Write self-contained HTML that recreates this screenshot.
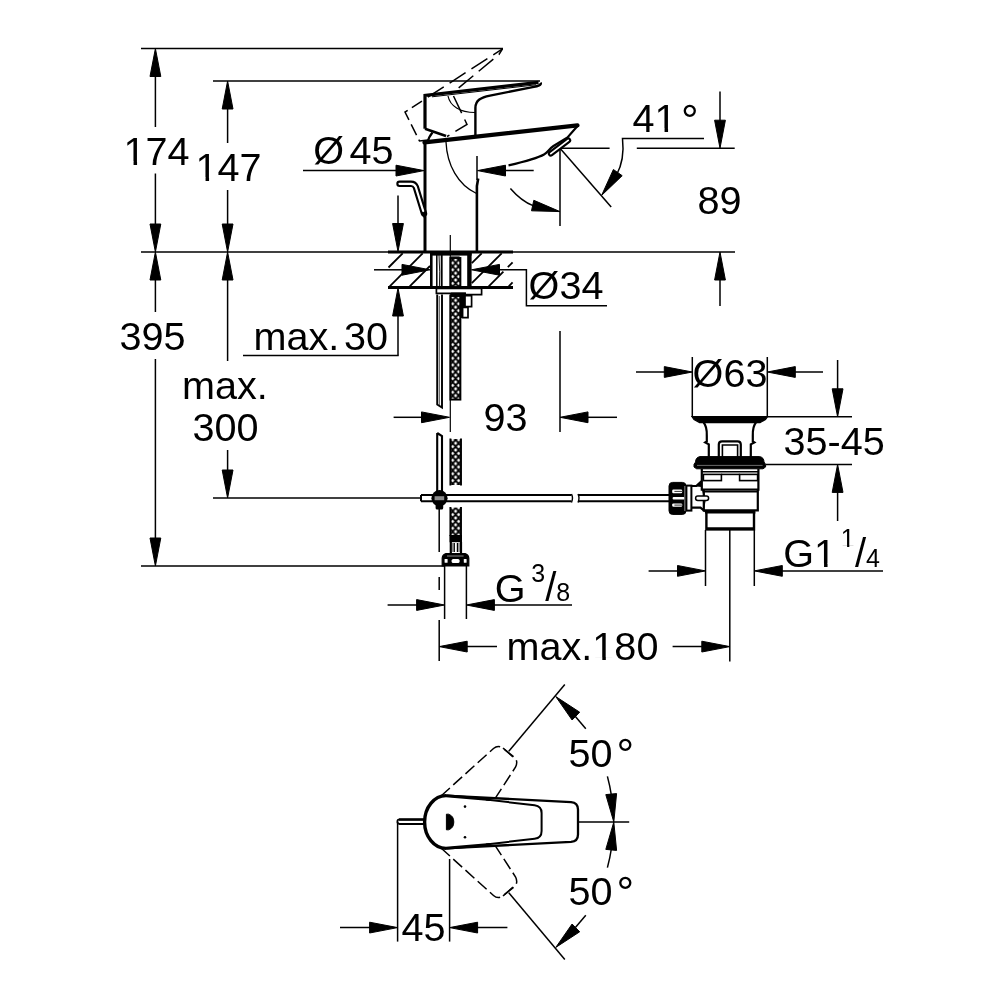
<!DOCTYPE html>
<html><head><meta charset="utf-8"><title>Dimensional drawing</title>
<style>
html,body{margin:0;padding:0;background:#fff;}
body{width:1000px;height:1000px;overflow:hidden;}
svg{display:block;will-change:transform;}
svg text{font-family:"Liberation Sans",sans-serif;fill:#000;stroke:none;}
</style></head><body>
<svg width="1000" height="1000" viewBox="0 0 1000 1000">
<defs>
<pattern id="hatch" width="6" height="6.8" patternUnits="userSpaceOnUse" patternTransform="translate(452.6,1.2)">
<rect width="6" height="6.8" fill="#fff"/>
<path d="M-1,-1.13 L7,7.93 M7,-1.13 L-1,7.93" stroke="#000" stroke-width="1.9"/>
</pattern>
</defs>
<rect width="1000" height="1000" fill="#fff"/>
<g fill="none" stroke="#000" stroke-linecap="butt">
<g id="dims" fill="#000">
<line x1="141" y1="48.5" x2="503" y2="48.5" stroke-width="1.5" />
<line x1="213" y1="81" x2="540" y2="81" stroke-width="1.5" />
<line x1="141" y1="252" x2="735" y2="252" stroke-width="1.5" />
<line x1="213" y1="498" x2="421" y2="498" stroke-width="1.5" />
<line x1="141" y1="566" x2="444" y2="566" stroke-width="1.5" />
<line x1="155.4" y1="70" x2="155.4" y2="127" stroke-width="1.5" />
<line x1="155.4" y1="173.5" x2="155.4" y2="230" stroke-width="1.5" />
<polygon points="155.4,48.5 160.8,76.5 150.0,76.5"/>
<polygon points="155.4,252.0 150.0,224.0 160.8,224.0"/>
<polygon points="155.4,252.0 160.8,280.0 150.0,280.0"/>
<line x1="155.4" y1="275" x2="155.4" y2="312" stroke-width="1.5" />
<line x1="155.4" y1="359" x2="155.4" y2="545" stroke-width="1.5" />
<polygon points="155.4,566.0 150.0,538.0 160.8,538.0"/>
<line x1="227.6" y1="100" x2="227.6" y2="143" stroke-width="1.5" />
<line x1="227.6" y1="190" x2="227.6" y2="230" stroke-width="1.5" />
<polygon points="227.6,81.0 233.0,109.0 222.2,109.0"/>
<polygon points="227.6,252.0 222.2,224.0 233.0,224.0"/>
<polygon points="227.6,252.0 233.0,280.0 222.2,280.0"/>
<line x1="227.6" y1="275" x2="227.6" y2="361" stroke-width="1.5" />
<line x1="227.6" y1="450" x2="227.6" y2="475" stroke-width="1.5" />
<polygon points="227.6,498.0 222.2,470.0 233.0,470.0"/>
<line x1="303" y1="170.6" x2="400" y2="170.6" stroke-width="1.5" />
<polygon points="424.0,170.6 396.0,176.0 396.0,165.2"/>
<polygon points="477.5,170.6 505.5,165.2 505.5,176.0"/>
<line x1="500" y1="170.6" x2="533.7" y2="170.6" stroke-width="1.5" />
<line x1="398" y1="195.6" x2="398" y2="230" stroke-width="1.5" />
<polygon points="398.0,251.5 392.6,223.5 403.4,223.5"/>
<polygon points="398.0,288.0 403.4,316.0 392.6,316.0"/>
<line x1="398" y1="310" x2="398" y2="355.6" stroke-width="1.5" />
<line x1="243" y1="355.6" x2="398.7" y2="355.6" stroke-width="1.5" />
<line x1="374" y1="269.8" x2="405" y2="269.8" stroke-width="1.5" />
<polygon points="430.0,269.8 402.0,275.2 402.0,264.4"/>
<polygon points="471.5,269.8 499.5,264.4 499.5,275.2"/>
<path d="M495,269.8 H526.4 V305.8 H607" stroke-width="1.5" fill="none" />
<line x1="393.6" y1="417.3" x2="425" y2="417.3" stroke-width="1.5" />
<polygon points="449.5,417.3 421.5,422.7 421.5,411.9"/>
<line x1="560" y1="331" x2="560" y2="432" stroke-width="1.5" />
<polygon points="560.0,417.3 588.0,411.9 588.0,422.7"/>
<line x1="585" y1="417.3" x2="617" y2="417.3" stroke-width="1.5" />
<line x1="560" y1="148.2" x2="609.6" y2="148.2" stroke-width="1.5" />
<line x1="636.8" y1="148.2" x2="734.7" y2="148.2" stroke-width="1.5" />
<line x1="560" y1="148.2" x2="560" y2="226" stroke-width="1.5" />
<line x1="560" y1="148.2" x2="611.2" y2="207" stroke-width="1.5" />
<path d="M704,138.5 H622.5 C624,152 622,165 616.5,175" stroke-width="1.5" fill="none" />
<polygon points="601.6,195.4 613.4,169.5 622.2,175.7"/>
<path d="M510.4,188.4 C517,196 524,202 533,205.6" stroke-width="1.5" fill="none" />
<polygon points="560.0,211.6 531.5,210.8 533.8,200.3"/>
<line x1="720" y1="91.5" x2="720" y2="125" stroke-width="1.5" />
<polygon points="720.0,148.2 714.6,120.2 725.4,120.2"/>
<polygon points="720.0,252.0 725.4,280.0 714.6,280.0"/>
<line x1="720" y1="275" x2="720" y2="306" stroke-width="1.5" />
<line x1="692.3" y1="357" x2="692.3" y2="417" stroke-width="1.5" />
<line x1="767.3" y1="357" x2="767.3" y2="417" stroke-width="1.5" />
<line x1="636" y1="372" x2="668" y2="372" stroke-width="1.5" />
<polygon points="692.3,372.0 664.3,377.4 664.3,366.6"/>
<polygon points="767.3,372.0 795.3,366.6 795.3,377.4"/>
<line x1="790" y1="372" x2="823" y2="372" stroke-width="1.5" />
<line x1="767.3" y1="416.8" x2="852" y2="416.8" stroke-width="1.5" />
<line x1="765.6" y1="464.4" x2="852" y2="464.4" stroke-width="1.5" />
<line x1="837.6" y1="360" x2="837.6" y2="392" stroke-width="1.5" />
<polygon points="837.6,416.8 832.2,388.8 843.0,388.8"/>
<polygon points="837.6,464.4 843.0,492.4 832.2,492.4"/>
<line x1="837.6" y1="488" x2="837.6" y2="521" stroke-width="1.5" />
<line x1="705.5" y1="530" x2="705.5" y2="586" stroke-width="1.5" />
<line x1="754.3" y1="530" x2="754.3" y2="586" stroke-width="1.5" />
<line x1="648.6" y1="570.9" x2="681" y2="570.9" stroke-width="1.5" />
<polygon points="705.5,570.9 677.5,576.3 677.5,565.5"/>
<polygon points="754.3,570.9 782.3,565.5 782.3,576.3"/>
<line x1="778" y1="570.9" x2="883" y2="570.9" stroke-width="1.5" />
<line x1="729.8" y1="530" x2="729.8" y2="661.5" stroke-width="1.5" />
<line x1="444.6" y1="566" x2="444.6" y2="619" stroke-width="1.5" />
<line x1="466.4" y1="566" x2="466.4" y2="619" stroke-width="1.5" />
<line x1="387.6" y1="605" x2="420" y2="605" stroke-width="1.5" />
<polygon points="444.6,605.0 416.6,610.4 416.6,599.6"/>
<polygon points="466.4,605.0 494.4,599.6 494.4,610.4"/>
<line x1="490" y1="605" x2="572" y2="605" stroke-width="1.5" />
<line x1="439.2" y1="620" x2="439.2" y2="661" stroke-width="1.5" />
<polygon points="439.2,646.6 467.2,641.2 467.2,652.0"/>
<line x1="463" y1="646.6" x2="497" y2="646.6" stroke-width="1.5" />
<line x1="672.6" y1="646.6" x2="705" y2="646.6" stroke-width="1.5" />
<polygon points="729.8,646.6 701.8,652.0 701.8,641.2"/>
<line x1="450.3" y1="235" x2="450.3" y2="432" stroke-width="1.2" />
<line x1="439.2" y1="509" x2="439.2" y2="552" stroke-width="1.5" />
<line x1="439.2" y1="577" x2="439.2" y2="590" stroke-width="1.5" />
<line x1="564.8" y1="684.6" x2="508.8" y2="751.2" stroke-width="1.5" />
<line x1="503" y1="748" x2="513" y2="757" stroke-width="1.5" />
<line x1="508.8" y1="892.8" x2="564.8" y2="959.4" stroke-width="1.5" />
<line x1="503" y1="896" x2="513" y2="887" stroke-width="1.5" />
<polygon points="555.8,696.6 579.7,712.2 572.1,720.0"/>
<line x1="572" y1="712.5" x2="585.8" y2="728.8" stroke-width="1.5" />
<polygon points="555.8,947.4 572.1,924.0 579.7,931.8"/>
<line x1="572" y1="931.5" x2="585.8" y2="915.2" stroke-width="1.5" />
<path d="M607.4,776.4 Q610,786 611.5,796" stroke-width="1.5" fill="none" />
<polygon points="613.8,822.0 605.8,794.6 616.6,793.6"/>
<path d="M607.4,867.6 Q610,858 611.5,848" stroke-width="1.5" fill="none" />
<polygon points="613.8,822.0 616.6,850.4 605.8,849.4"/>
<line x1="578" y1="822" x2="629.2" y2="822" stroke-width="1.5" />
<line x1="397.6" y1="822" x2="397.6" y2="941.6" stroke-width="1.5" />
<line x1="449.6" y1="859" x2="449.6" y2="941.6" stroke-width="1.5" />
<line x1="340" y1="927.6" x2="375" y2="927.6" stroke-width="1.5" />
<polygon points="397.6,927.6 369.6,933.0 369.6,922.2"/>
<polygon points="449.6,927.6 477.6,922.2 477.6,933.0"/>
<line x1="473" y1="927.6" x2="507.4" y2="927.6" stroke-width="1.5" />
</g>
<!-- ===== faucet side view ===== -->
<g id="faucet">
  <!-- dashed raised handle -->
  <g stroke-width="1.5" stroke-dasharray="19 7">
    <path d="M502.5,48.8 L405,112 L419.5,141 L428,140" stroke-dashoffset="8" stroke-dasharray="19 7 19 7 19 7 19 7 12 5 12 5 12 5"/>
    <path d="M502.5,48.8 L499,54.5 L456,90" stroke-dashoffset="12"/>
    <path d="M453.5,96 L467,124.4 L447,136.5"/>
  </g>
  <!-- handle -->
  <path d="M425,128.8 V95.4 L538.5,82.4" stroke-width="3.2" stroke-linejoin="miter"/>
  <path d="M425,128.8 L446,136" stroke-width="2.6"/>
  <path d="M432,96.8 L536,84.8" stroke-width="1" />
  <path d="M540.5,82.6 C542,85 538,86 532.5,87.2 L490,95.6 C481,97.5 475.4,100 475.4,108 V136" stroke-width="2.4"/>
  <path d="M448,96 C450,106 460,112.5 475,112.5" stroke-width="1.2"/>
  <path d="M432.5,132.5 Q428.5,137 427.5,143" stroke-width="2.2"/>
  <!-- spout -->
  <path d="M424.5,142.4 L577.5,125.4" stroke-width="4.2" stroke-linecap="round"/>
  <path d="M577.5,126 L567.5,137.5 L553.5,146 C549,149 547.5,152.5 544,154.5 C537,158.5 523,162 508.5,165.4" stroke-width="2.2"/>
  <path d="M550.8,153.6 L568.2,140.4" stroke-width="6" stroke-linecap="round"/>
  <path d="M550.8,153.6 L568.2,140.4" stroke-width="1.8" stroke-linecap="round" stroke="#fff"/>
  <!-- body -->
  <line x1="425" y1="142" x2="425" y2="252" stroke-width="3"/>
  <line x1="477" y1="156" x2="477" y2="180" stroke-width="1.5"/>
  <path d="M478.2,178.5 L476.9,186 V252" stroke-width="2.6"/>
  <path d="M446,142 C447,165 458,185 476.5,193.5" stroke-width="1.3"/>
  <!-- pop-up lever -->
  <path d="M399.5,183.8 H411 Q414.5,183.8 415.8,187 L424,213.5" stroke-width="6.4" stroke-linecap="round" stroke-linejoin="round"/>
  <path d="M421.4,212 L425,221 L426,206 Z" fill="#000" stroke="none"/>
  <path d="M399.5,183.8 H411 Q414.5,183.8 415.8,187 L423.2,211" stroke-width="2.2" stroke-linecap="round" stroke-linejoin="round" stroke="#fff"/>
</g>

<!-- ===== deck ===== -->
<g id="deck">
  <line x1="388" y1="252" x2="513" y2="252" stroke-width="3"/>
  <line x1="388" y1="287.6" x2="513" y2="287.6" stroke-width="3"/>
  <g stroke-width="1.8">
    <line x1="388.5" y1="267.5" x2="402.7" y2="253.3"/>
    <line x1="389.7" y1="286.3" x2="422.7" y2="253.3"/>
    <line x1="409.7" y1="286.3" x2="430" y2="266"/>
    <line x1="471.8" y1="263.2" x2="481.7" y2="253.3"/>
    <line x1="471.8" y1="283.2" x2="501.7" y2="253.3"/>
    <line x1="488.7" y1="286.3" x2="503.4" y2="271.6"/>
    <line x1="507.8" y1="267.2" x2="512.6" y2="262.4"/>
    <line x1="508.7" y1="286.3" x2="512.6" y2="282.4"/>
  </g>
  <!-- hole + shank -->
  <rect x="430" y="252" width="41.6" height="3.6" fill="#000" stroke="none"/>
  <line x1="431.3" y1="252" x2="431.3" y2="288" stroke-width="2.6"/>
  <line x1="469.4" y1="252" x2="469.4" y2="288" stroke-width="4.4"/>
  <line x1="436.8" y1="255" x2="436.8" y2="288" stroke-width="1.5"/>
  <path d="M439,255 Q440.2,272 439.4,288" stroke-width="0.9"/>
  <line x1="441.7" y1="255" x2="441.7" y2="288" stroke-width="1.9"/>
  <!-- plate and nut under deck -->
  <path d="M436.4,288.5 H481.6 V294.6 H465 V293.4 H436.4 Z" stroke-width="1.7" fill="#fff"/>
  <rect x="451" y="292.6" width="15" height="3.2" fill="#000" stroke="none"/>
  <rect x="461" y="293" width="4" height="25" fill="#000" stroke="none"/>
  <path d="M465,295.6 H471.6 V306.6 H465 Z M462.6,307.4 H468 V317.6 H462.6 Z" stroke-width="1.7" fill="#fff"/>
</g>

<!-- ===== rod & hose ===== -->
<g id="hose">
  <path d="M437.2,294.4 V404.5 L442,407.5 V294.4" stroke-width="1.9"/>
  <line x1="439.3" y1="296" x2="439.3" y2="405" stroke-width="0.7"/>
  <path d="M437.2,433 L442,436 V491 M437.2,433 V491" stroke-width="2.1"/>
  <rect x="450.4" y="258" width="10" height="29" fill="url(#hatch)" stroke-width="1.9"/>
  <rect x="450.4" y="296" width="10" height="103.6" fill="url(#hatch)" stroke-width="1.9"/>
  <line x1="451" y1="256.8" x2="459.6" y2="256.8" stroke="#000" stroke-width="0.8"/>
  <rect x="450.4" y="439" width="10.6" height="46" fill="url(#hatch)" stroke="none"/>
  <path d="M450.4,438.4 V485.6 M461,438.4 V485.6" stroke-width="1.9"/>
  <rect x="450.4" y="507.6" width="10.6" height="28" fill="url(#hatch)" stroke="none"/>
  <path d="M450.4,507 V536 M461,507 V536" stroke-width="1.9"/>
  <!-- ferrule -->
  <rect x="449.4" y="535" width="12.6" height="7.2" fill="#000" stroke="none"/>
  <path d="M450.8,542 V553 M461,542 V553" stroke-width="2.2"/>
  <path d="M452.9,543 V552 M459,543 V552" stroke-width="1.3" stroke="#666"/>
  <path d="M454.3,543 V552 M457.4,543 V552" stroke-width="1.2"/>
  <!-- nut -->
  <path d="M446,553.6 H465 Q468.4,554.4 468.8,558 V566 H442.2 V558 Q442.6,554.4 446,553.6 Z" stroke-width="1.2" fill="#000"/>
  <line x1="447" y1="556" x2="463.6" y2="556" stroke="#999" stroke-width="0.9"/>
  <rect x="444.6" y="559" width="3" height="3.8" rx=".6" fill="#fff" stroke="none"/>
  <rect x="451.6" y="559" width="8" height="4" rx="1.6" fill="#fff" stroke="none"/>
  <rect x="463.8" y="559" width="2.8" height="3.8" rx=".6" fill="#fff" stroke="none"/>
  <!-- horizontal rod -->
  <path d="M421,495 H571.5 M421,501.2 H571.5 M421,495 V501.2" stroke-width="2"/>
  <path d="M578,495 H669 M578,501.2 H669" stroke-width="2"/>
  <path d="M571.5,494 Q573.5,498 571.5,502.5 M578,494 Q580,498 578,502.5" stroke-width="1.4"/>
  <!-- joint ball -->
  <circle cx="439.5" cy="498.2" r="8.1" fill="#000" stroke="none"/>
  <rect x="435.6" y="504" width="7.6" height="5.6" rx="1.5" fill="#000" stroke="none"/>
  <rect x="434.6" y="496.2" width="9.6" height="4" fill="#fff" stroke="none" opacity=".55"/>
</g>

<!-- ===== drain ===== -->
<g id="drain">
  <!-- top flange -->
  <path d="M692,416.6 H767.6 L765.5,419.5 L760,422.6 H699.6 L694,419.5 Z" fill="#000" stroke-width="1.2"/>
  <!-- neck -->
  <path d="M703.6,422.6 C706.6,426 707,430 706.8,436 V441.4 L705.2,442.4 L708.8,444.4 V457" stroke-width="2.2"/>
  <path d="M756,422.6 C753,426 752.6,430 752.8,436 V441.4 L754.4,442.4 L750.8,444.4 V457" stroke-width="2.2"/>
  <!-- plug -->
  <path d="M718.8,457 V444.6 Q718.8,441.4 722,441.4 H737.6 Q740.8,441.4 740.8,444.6 V457" stroke-width="2.2"/>
  <path d="M722.4,457 V445 H737.6 V457" stroke-width="1.6"/>
  <!-- gasket -->
  <path d="M700,456.6 H759.6 Q764,457.4 764,462 L765.6,464.4 V467 L763,468.8 H696.6 L694,467 V464.4 L695.6,462 Q695.6,457.4 700,456.6 Z" fill="#000" stroke-width="1"/>
  <line x1="697" y1="465.4" x2="762.6" y2="465.4" stroke="#fff" stroke-width="0.7" opacity=".6"/>
  <!-- upper body -->
  <path d="M701.8,469 V489.6 H758.4 V469" stroke-width="2.2"/>
  <line x1="702" y1="471.8" x2="758" y2="471.8" stroke-width="1.6"/>
  <rect x="703.4" y="474.4" width="18" height="6.2" stroke-width="1.6"/>
  <rect x="739.6" y="474.4" width="18" height="6.2" stroke-width="1.6"/>
  <line x1="721.4" y1="474.4" x2="739.6" y2="474.4" stroke-width="1.6"/>
  <!-- middle body -->
  <path d="M703.8,489.6 V510.4 H757.8 V489.6" stroke-width="2.2"/>
  <line x1="703.8" y1="491.8" x2="757.8" y2="491.8" stroke-width="1.6"/>
  <!-- thread -->
  <path d="M705,512.2 H755.4" stroke-width="2.6"/>
  <path d="M706.4,512.2 V529.4 H754 V512.2" stroke-width="2.4"/>
  <line x1="706.4" y1="528.8" x2="754" y2="528.8" stroke-width="3"/>
  <!-- side branch -->
  <path d="M692,486 H696.3 L701.4,481.2 M692,507.7 H700.5 L705,511.4" stroke-width="2.2"/>
  <path d="M696.3,486.6 L701.8,481 V487 Z" fill="#000" stroke="none"/>
  <path d="M702.6,490 L705.2,500 L703.4,509" stroke-width="1.2"/>
  <rect x="695.6" y="496" width="13" height="4.4" rx="2.2" stroke-width="1.5" fill="#fff"/>
  <!-- washer -->
  <rect x="686.4" y="485.6" width="5" height="25" stroke-width="2" fill="#fff"/>
  <!-- nut on branch -->
  <rect x="669" y="482.4" width="17" height="32" rx="3.6" stroke-width="1" fill="#000"/>
  <rect x="672.2" y="489.6" width="10" height="3.6" rx="1.2" fill="#fff" stroke="none"/>
  <rect x="672.6" y="497" width="12" height="2.6" rx="1" fill="#fff" stroke="none"/>
  <rect x="672.2" y="503.4" width="10" height="3.4" rx="1.2" fill="#fff" stroke="none"/>
  <path d="M674.4,491.4 H682 M674.4,505.1 H682" stroke-width="0.8"/>
  <rect x="684.2" y="486" width="1.2" height="25" fill="#777" stroke="none"/>
</g>

<!-- ===== bottom view ===== -->
<g id="plan">
  <!-- dashed swung handles -->
  <g stroke-width="1.5" stroke-dasharray="12 4.5">
    <path d="M441,796 L493.5,748.5 Q498,744.6 502.5,748 L513.6,756.6 Q518.6,760.6 515.6,767 L495,798.6"/>
    <path d="M441,848 L493.5,895.5 Q498,899.4 502.5,896 L513.6,887.4 Q518.6,883.4 515.6,877 L495,845.4"/>
  </g>
  <!-- outer handle -->
  <path d="M446,795.6 L571,802.2 Q578,802.8 578,809.6 V834.4 Q578,841.2 571,841.8 L446,848.4" stroke-width="2.3" fill="none"/>
  <path d="M446,795.6 A21.4,26.4 0 0 0 446,848.4" stroke-width="3.4"/>
  <path d="M446,795.8 L490,799.4 M446,848.2 L490,844.6" stroke-width="3"/>
  <!-- inner -->
  <path d="M486,799.6 L534.6,805.2 Q541.6,806 541.6,813 V831 Q541.6,838 534.6,838.8 L486,844.4" stroke-width="2"/>
  <!-- details -->
  <path d="M446.4,814.2 H448.6 Q453.8,816 453.8,822 Q453.8,828 448.6,829.8 H446.4 Z" fill="#000" stroke-width="1"/>
  <circle cx="465" cy="806.6" r="1.3" fill="#000" stroke="none"/>
  <circle cx="465" cy="837.2" r="1.3" fill="#000" stroke="none"/>
  <!-- rod -->
  <path d="M424.6,819.4 H399.6 Q397.4,819.4 397.4,821.6 Q397.4,824 399.6,824 H424.6" stroke-width="1.8"/><line x1="399" y1="819.6" x2="424.6" y2="819.6" stroke-width="2.4"/>
</g>

</g>
<g id="labels">
<text x="123.6" y="164.8" font-size="39.6" >174</text>
<text x="195.6" y="180.8" font-size="39.6" >147</text>
<text x="119.6" y="350.4" font-size="39.6" >395</text>
<text x="253.6" y="349.8" font-size="39.6" >max.</text>
<text x="344.1" y="349.8" font-size="39.6" >30</text>
<text x="182.1" y="399.4" font-size="39.6" >max.</text>
<text x="192.6" y="441.4" font-size="39.6" >300</text>
<text x="313.2" y="164.0" font-size="39.6" >Ø</text>
<text x="349.6" y="164.0" font-size="39.6" >45</text>
<text x="528.6" y="299.0" font-size="39.6" >Ø34</text>
<text x="632.6" y="131.9" font-size="39.6" >41</text>
<text x="681.0" y="135.8" font-size="44" >°</text>
<text x="697.6" y="214.4" font-size="39.6" >89</text>
<text x="483.6" y="431.4" font-size="39.6" >93</text>
<text x="692.6" y="387.2" font-size="39.6" >Ø63</text>
<text x="783.6" y="455.0" font-size="39.6" >35-45</text>
<text x="783.3" y="566.8" font-size="39.6" >G1</text>
<text x="840.8" y="547.4" font-size="25" >1</text>
<text x="854.9" y="566.8" font-size="40" >/</text>
<text x="865.9" y="566.6" font-size="25" >4</text>
<text x="494.8" y="601.6" font-size="39.6" >G</text>
<text x="531.2" y="582.0" font-size="25" >3</text>
<text x="545.3" y="601.2" font-size="40" >/</text>
<text x="556.3" y="601.4" font-size="25" >8</text>
<text x="506.6" y="660.4" font-size="39.6" >max.180</text>
<text x="568.6" y="767.4" font-size="39.6" >50</text>
<text x="616.6" y="770.0" font-size="44" >°</text>
<text x="568.6" y="905.4" font-size="39.6" >50</text>
<text x="616.6" y="908.0" font-size="44" >°</text>
<text x="401.6" y="941.4" font-size="39.6" >45</text>
</g>
<g id="mask1" fill="#fff" stroke="none">
<rect x="125.82" y="161.44" width="7.74" height="4.46"/>
<rect x="137.06" y="161.44" width="7.43" height="4.46"/>
<rect x="197.82" y="177.44" width="7.74" height="4.46"/>
<rect x="209.06" y="177.44" width="7.43" height="4.46"/>
<rect x="656.82" y="128.54" width="7.74" height="4.46"/>
<rect x="668.06" y="128.54" width="7.43" height="4.46"/>
<rect x="816.30" y="563.44" width="7.74" height="4.46"/>
<rect x="827.54" y="563.44" width="7.43" height="4.46"/>
<rect x="841.90" y="545.13" width="5.18" height="3.37"/>
<rect x="849.30" y="545.13" width="4.99" height="3.37"/>
<rect x="594.57" y="657.04" width="7.74" height="4.46"/>
<rect x="605.81" y="657.04" width="7.43" height="4.46"/>
</g>
</svg>
</body></html>
